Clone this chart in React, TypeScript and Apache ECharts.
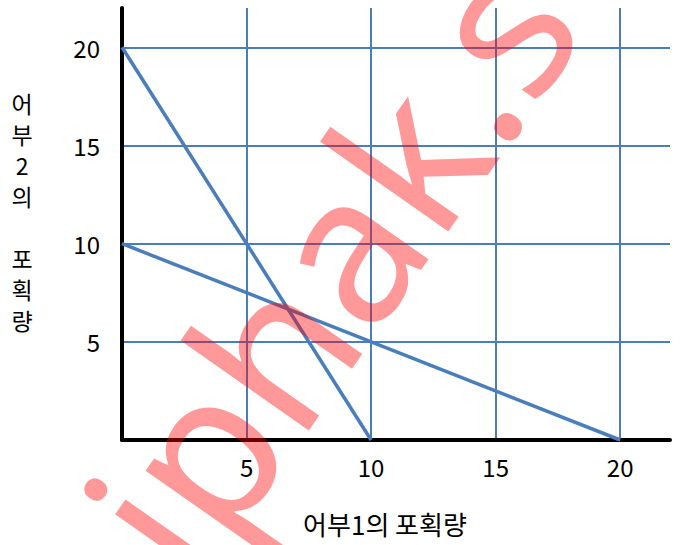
import React, { useEffect, useRef } from "react";
import * as echarts from "echarts";

const xTickValues = [5, 10, 15, 20];
const yTickValues = [5, 10, 15, 20];
const line1 = [
  [0, 20],
  [10, 0],
];
const line2 = [
  [0, 10],
  [20, 0],
];
const xName = "어부1의 포획량";
const yNameChars = ["어", "부", "2", "의", "", "포", "획", "량"];
const watermark = "iphak.s";

const BLUE = "#4a7ebb";
const FONT = "'Noto Sans CJK KR', 'Noto Sans', sans-serif";

export default function App() {
  const ref = useRef<HTMLDivElement>(null);
  useEffect(() => {
    if (!ref.current) return;
    const chart = echarts.init(ref.current, null, { renderer: "svg" });
    const fmt = (list: number[]) => (v: number) => (list.includes(v) ? String(v) : "");
    const yNameTexts = yNameChars
      .map((c, i) => ({ c, i }))
      .filter((o) => o.c !== "")
      .map((o) => ({
        type: "text",
        x: 22,
        y: 103 + o.i * 31,
        style: {
          text: o.c,
          fontSize: 23,
          fontFamily: FONT,
          fill: "#000",
          align: "center",
          verticalAlign: "middle",
        },
      }));
    chart.setOption({
      animation: false,
      grid: { left: 122, right: 10, top: 8, bottom: 105 },
      xAxis: {
        type: "value",
        min: 0,
        max: 22,
        interval: 5,
        axisLine: { show: true, onZero: false, lineStyle: { color: "#000", width: 4 } },
        axisTick: { show: false },
        axisLabel: {
          formatter: fmt(xTickValues),
          color: "#000",
          fontSize: 24,
          fontFamily: FONT,
          margin: 14,
        },
        splitLine: { show: true, showMinLine: false, showMaxLine: false, lineStyle: { color: BLUE, width: 2 } },
      },
      yAxis: {
        type: "value",
        min: 0,
        max: 22,
        interval: 5,
        axisLine: { show: true, onZero: false, lineStyle: { color: "#000", width: 4 } },
        axisTick: { show: false },
        axisLabel: {
          formatter: fmt(yTickValues),
          color: "#000",
          fontSize: 24,
          fontFamily: FONT,
          margin: 22,
        },
        splitLine: { show: true, showMinLine: false, showMaxLine: false, lineStyle: { color: BLUE, width: 2 } },
      },
      series: [
        {
          type: "line",
          data: line1,
          symbol: "none",
          lineStyle: { color: BLUE, width: 3.5 },
          z: 3,
        },
        {
          type: "line",
          data: line2,
          symbol: "none",
          lineStyle: { color: BLUE, width: 3.5 },
          z: 3,
        },
      ],
      graphic: [
        {
          type: "text",
          x: 385,
          y: 523,
          style: {
            text: xName,
            fontSize: 26,
            fontFamily: FONT,
            fill: "#000",
            align: "center",
            verticalAlign: "middle",
          },
        },
        ...yNameTexts,
        {
          type: "text",
          x: 130,
          y: 546,
          rotation: (55 * Math.PI) / 180,
          z: 100,
          style: {
            text: watermark,
            fontSize: 206,
            fontFamily: "'Noto Sans', sans-serif",
            fill: "rgba(255,0,0,0.4)",
            align: "left",
            verticalAlign: "middle",
          },
        },
      ],
    });
    return () => chart.dispose();
  }, []);
  return <div ref={ref} style={{ width: 680, height: 545, position: "absolute", left: 0, top: 0 }} />;
}
